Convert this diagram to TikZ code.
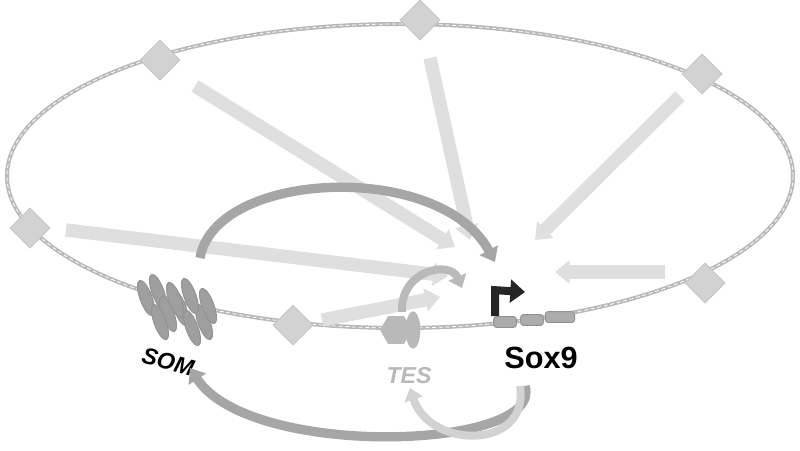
\documentclass[tikz,border=0pt]{standalone}
\usepackage{fontspec}
\setmainfont{Liberation Sans}
\usetikzlibrary{arrows.meta,shapes.geometric}
\tikzset{every picture/.style={line width=0.75pt}}
\tikzset{
  site/.style={draw=gray!45,fill=gray!35,diamond,minimum size=30pt,inner sep=0pt},
  inflow/.style={draw=gray!25,line width=10pt,-{Triangle[length=11pt,width=17pt]}},
  loopback/.style={draw=gray!70,line width=7pt,-{Triangle[length=10pt,width=15pt]}},
  blob/.style={fill=gray!75,draw=gray!85,ellipse,minimum width=9pt,minimum height=28pt,inner sep=0pt},
  exon/.style={fill=gray!65,draw=gray!85,rounded corners=2pt,minimum width=17pt,minimum height=8pt,inner sep=0pt}
}
\begin{document}
\begin{tikzpicture}[x=0.75pt,y=0.75pt,yscale=-1,xscale=1]
    \useasboundingbox (0,0) rectangle (800,450);

    %Chromosome loop
    \draw [gray!55,line width=3pt] (400,176) ellipse (393 and 152);
    \draw [white,line width=0.6pt,dash pattern=on 3pt off 2pt] (400,176) ellipse (393 and 152);

    %Sites on the loop
    \node [site] (s1) at (30,228) {};
    \node [site] (s2) at (160,60) {};
    \node [site] (s3) at (420,20) {};
    \node [site] (s4) at (702,74) {};
    \node [site] (s5) at (705,283) {};
    \node [site] (s6) at (293,325) {};

    %Targets
    \coordinate (t1) at (455,247);
    \coordinate (t2) at (470,240);
    \coordinate (t3) at (535,240);
    \coordinate (t4) at (448,276);
    \coordinate (t5) at (555,272);
    \coordinate (t6) at (440,297);

    %Straight inputs
    \draw [inflow] (195,86) -- (t1);
    \draw [inflow] (430,58) -- (t2);
    \draw [inflow] (680,96) -- (t3);
    \draw [inflow] (66,230) -- (t4);
    \draw [inflow] (665,272) -- (t5);
    \draw [inflow] (322,320) -- (t6);

    %SOM cluster
    \foreach \px/\py in {146/298,158/292,168/314,180/308,192/328,204/322,160/322,175/300,190/296,208/306}
      \node [blob,rotate=20] at (\px,\py) {};
    \node [rotate=-15,font=\bfseries\itshape\LARGE] (som) at (168,362) {SOM};

    %TES
    \node [regular polygon,regular polygon sides=6,fill=gray!55,minimum size=24pt,inner sep=0pt] (tes) at (396,330) {};
    \node [ellipse,fill=gray!55,minimum width=11pt,minimum height=28pt,inner sep=0pt] at (413,330) {};
    \node [font=\bfseries\itshape\LARGE,text=gray!55] (teslabel) at (409,376) {TES};

    %Sox9 gene
    \node [exon] (e1) at (505,322) {};
    \node [exon] (e2) at (532,320) {};
    \node [exon,minimum width=22pt] (e3) at (560,317) {};
    \node [font=\bfseries\fontsize{23}{26}\selectfont] (sox) at (541,358) {Sox9};
    \draw [black!85,line width=6pt,-{Triangle[length=11pt,width=17pt]}] (e1.north west) ++(2,0) -- ++(0,-26) -- (525,292);

    %Feedback arcs
    \draw [loopback] (200,258) .. controls (215,170) and (440,160) .. (495,262);
    \draw [draw=gray!55,line width=6pt,-{Triangle[length=9pt,width=14pt]}] (402,312) .. controls (400,270) and (450,260) .. (462,288);
    \draw [loopback] (525,386) .. controls (545,450) and (250,460) .. (190,368);
    \draw [draw=gray!35,line width=6pt,-{Triangle[length=9pt,width=14pt]}] (520,386) .. controls (530,450) and (430,450) .. (410,388);
\end{tikzpicture}
\end{document}
